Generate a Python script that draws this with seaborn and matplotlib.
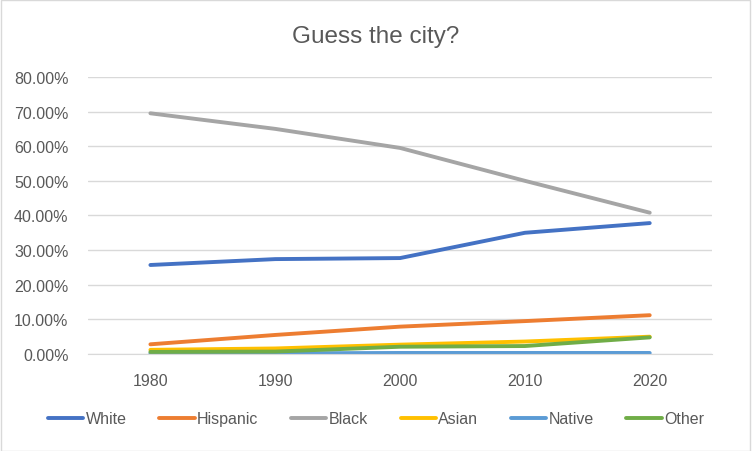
import pandas as pd
import seaborn as sb
import matplotlib.pyplot as plt
from matplotlib.ticker import PercentFormatter

years = ['1980', '1990', '2000', '2010', '2020']
white = [25.7, 27.4, 27.7, 35.0, 37.8]
hispanic = [2.8, 5.5, 7.9, 9.5, 11.2]
black = [69.5, 65.0, 59.5, 50.0, 40.8]
asian = [1.2, 1.6, 2.7, 3.6, 5.0]
native = [0.2, 0.2, 0.3, 0.3, 0.3]
other = [0.6, 0.7, 2.1, 2.3, 4.8]

groups = ['White', 'Hispanic', 'Black', 'Asian', 'Native', 'Other']
colors = ['#4472C4', '#ED7D31', '#A5A5A5', '#FFC000', '#5B9BD5', '#70AD47']

df = pd.DataFrame({'Year': years, 'White': white, 'Hispanic': hispanic, 'Black': black,
                   'Asian': asian, 'Native': native, 'Other': other})
long = df.melt(id_vars='Year', var_name='Group', value_name='Share')
long['Share'] = long['Share'] / 100

sb.set_style('white')
plt.rcParams['font.family'] = ['Liberation Sans', 'DejaVu Sans']

fig = plt.figure(figsize=(7.52, 4.52), dpi=100)
ax = fig.add_axes([0.117, 0.2146, 0.830, 0.613])

sb.lineplot(data=long, x='Year', y='Share', hue='Group', hue_order=groups,
            palette=dict(zip(groups, colors)), linewidth=2.8, ax=ax,
            solid_capstyle='round', sort=False)

ax.set_ylim(0, 0.8)
ax.set_xlim(-0.5, 4.5)
ax.set_yticks([i / 10 for i in range(9)])
ax.yaxis.set_major_formatter(PercentFormatter(1.0, decimals=2))
ax.grid(axis='y', color='#D9D9D9', linewidth=1)
ax.set_axisbelow(True)
for s in ax.spines.values():
    s.set_visible(False)
ax.spines['bottom'].set_visible(True)
ax.spines['bottom'].set_color('#D9D9D9')
ax.tick_params(axis='both', length=0, labelsize=11.5, labelcolor='#595959')
ax.tick_params(axis='y', pad=14)
ax.tick_params(axis='x', pad=14)
ax.set_xlabel('')
ax.set_ylabel('')

fig.text(0.5, 1 - 37 / 452, 'Guess the city?', ha='center', va='center', fontsize=17.5, color='#595959')

leg = ax.legend(loc='center', ncol=6, frameon=False, fontsize=11.5, handlelength=2.2,
                handletextpad=0.15, columnspacing=2.05, labelcolor='#595959')
leg.set_bbox_to_anchor((0.5, 1 - 420 / 452), transform=fig.transFigure)
for line in leg.get_lines():
    line.set_linewidth(2.8)
    line.set_solid_capstyle('round')

# outer border like the Excel chart area
fig.patches.append(plt.Rectangle((0.001, 0.001), 0.997, 0.997, transform=fig.transFigure,
                                 fill=False, edgecolor='#D9D9D9', linewidth=1))

fig.savefig('out.png', dpi=100)
